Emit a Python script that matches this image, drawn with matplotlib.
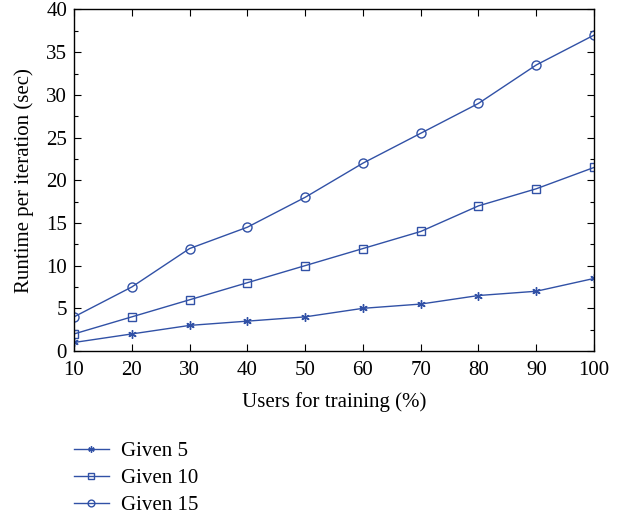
import numpy as np
import matplotlib
matplotlib.use('Agg')
import matplotlib.pyplot as plt
from matplotlib.ticker import MultipleLocator

# === Data ===
users_pct = [10, 20, 30, 40, 50, 60, 70, 80, 90, 100]
given5 = [1, 2, 3, 3.5, 4, 5, 5.5, 6.5, 7, 8.5]
given10 = [2, 4, 6, 8, 10, 12, 14, 17, 19, 21.5]
given15 = [4, 7.5, 12, 14.5, 18, 22, 25.5, 29, 33.5, 37]
series_labels = ['Given 5', 'Given 10', 'Given 15']

BLUE = '#3151a6'
plt.rcParams['font.family'] = ['Liberation Serif', 'DejaVu Serif']
plt.rcParams['font.size'] = 15

fig = plt.figure(figsize=(6.23, 5.15), dpi=100)
ax = fig.add_axes([0.1188, 0.3184, 0.8347, 0.6632])

ax.plot(users_pct, given5, color=BLUE, lw=1.0, marker=(6, 2, 0), ms=6,
        mew=1.0, label=series_labels[0])
ax.plot(users_pct, given10, color=BLUE, lw=1.0, marker='s', ms=5.5,
        mfc='none', mew=1.0, label=series_labels[1])
ax.plot(users_pct, given15, color=BLUE, lw=1.0, marker='o', ms=6.5,
        mfc='none', mew=1.0, label=series_labels[2])

ax.set_xlim(10, 100)
ax.set_ylim(0, 40)
ax.xaxis.set_major_locator(MultipleLocator(10))
ax.yaxis.set_major_locator(MultipleLocator(5))
ax.yaxis.set_minor_locator(MultipleLocator(2.5))
ax.tick_params(which='both', direction='in', top=True, right=True, labelsize=15)
ax.tick_params(axis='x', pad=7)
ax.tick_params(axis='y', pad=5)
ax.tick_params(which='major', length=5, width=0.8)
ax.tick_params(which='minor', length=3, width=0.8)
for s in ax.spines.values():
    s.set_linewidth(1.0)

ax.set_xlabel('Users for training (%)', fontsize=15, labelpad=9)
ax.set_ylabel('Runtime per iteration (sec)', fontsize=15, labelpad=9)

fig.legend(loc='upper left', bbox_to_anchor=(0.118, 0.142), frameon=False,
           handlelength=1.7, labelspacing=0.35, handletextpad=0.6,
           markerscale=0.75, fontsize=15, borderaxespad=0, borderpad=0)

plt.savefig('out.png', dpi=100)
